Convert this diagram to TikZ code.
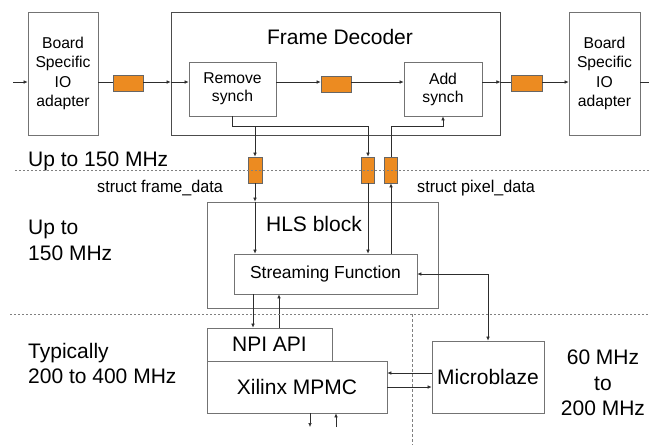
\documentclass[tikz,border=0pt]{standalone}
\usepackage{fontspec}
\setmainfont{Liberation Sans}
\newfontfamily\narrowfont[FakeStretch=0.95]{Liberation Sans}
\usetikzlibrary{arrows.meta,calc}
\definecolor{fifoorange}{RGB}{236,139,33}
\definecolor{boxgray}{RGB}{115,115,115}
\definecolor{wire}{RGB}{45,45,45}
\begin{document}
\begin{tikzpicture}[x=1pt,y=-1pt,
  box/.style={draw=boxgray, line width=0.8pt, inner sep=0pt, align=center, rectangle},
  fifo/.style={draw=black!60, fill=fifoorange, line width=0.8pt, inner sep=0pt, rectangle},
  tip/.tip={Latex[length=4pt,width=3.6pt]},
  arr/.style={draw=wire, line width=0.6pt, -tip},
  ln/.style={draw=wire, line width=0.6pt},
  sep/.style={draw=gray, line width=0.8pt, dash pattern=on 2pt off 2pt},
  sepv/.style={draw=gray, line width=0.7pt, dash pattern=on 3pt off 2pt},
  big/.style={font=\fontsize{21}{25.5}\selectfont},
  mid/.style={font=\fontsize{15.7}{19.5}\selectfont},
  lbl/.style={inner sep=0pt}
]
\useasboundingbox (0,0) rectangle (649,445);

% top row
\node[box, mid, minimum width=70pt, minimum height=123pt] (boardL) at (63,73.5) {Board\\Specific\\IO\\adapter};
\node[box, draw=black!70, minimum width=329pt, minimum height=123pt] (dec) at (335.5,73.5) {};
\node[lbl, big, anchor=base] (dectitle) at (340,44) {Frame Decoder};
\node[box, font=\fontsize{15.7}{18}\selectfont, minimum width=87pt, minimum height=54pt] (remove) at (232.5,89) {Remove\\synch};
\node[box, font=\fontsize{15.7}{18}\selectfont, minimum width=78pt, minimum height=54pt] (add) at (443,89) {Add\\synch};
\node[box, mid, minimum width=71pt, minimum height=123pt] (boardR) at (604.5,73.5) {Board\\Specific\\IO\\adapter};

\node[fifo, minimum width=30pt, minimum height=16pt] (fifo1) at (128,83) {};
\node[fifo, minimum width=30pt, minimum height=16pt] (fifo2) at (336,84) {};
\node[fifo, minimum width=31pt, minimum height=16pt] (fifo3) at (526.5,83) {};

\coordinate (in) at (13,82);
\coordinate (out) at (649,82);
\draw[arr] (in) -- (in -| boardL.west);
\draw[ln] (in -| boardL.east) -- (in -| fifo1.west);
\draw[arr] (in -| fifo1.east) -- (in -| dec.west);
\draw[arr] (in -| dec.west) -- (in -| remove.west);
\draw[arr] (in -| remove.east) -- (in -| fifo2.west);
\draw[arr] (in -| fifo2.east) -- (in -| add.west);
\draw[arr] (in -| add.east) -- (in -| dec.east);
\draw[ln] (in -| dec.east) -- (in -| fifo3.west);
\draw[arr] (in -| fifo3.east) -- (in -| boardR.west);
\draw[ln] (in -| boardR.east) -- (out);

% vertical fifos
\node[fifo, minimum width=14pt, minimum height=26pt] (fifoA) at (255,170) {};
\node[fifo, minimum width=13pt, minimum height=26pt] (fifoB) at (368,170) {};
\node[fifo, minimum width=13pt, minimum height=26pt] (fifoC) at (391,170) {};

\coordinate (bus) at (0,126);
\draw[arr] (remove.south) |- (fifoA |- bus) -- (fifoA.north);
\draw[arr] (remove.south) |- (fifoB |- bus) -- (fifoB.north);
\draw[arr] (fifoC.north) |- (add.south |- bus) -- (add.south);

% HLS block
\node[box, minimum width=231pt, minimum height=106pt] (hls) at (322.5,255) {};
\node[lbl, big, anchor=base] (hlstitle) at (314,231) {HLS block};
\node[box, font=\fontsize{17.4}{20}\selectfont, minimum width=183pt, minimum height=40pt] (stream) at (325.5,274) {Streaming Function};

\draw[arr] (fifoA.south) -- (fifoA |- hls.north);
\draw[arr] (fifoA |- hls.north) -- (fifoA |- stream.north);
\draw[arr] (fifoB.south) -- (fifoB |- stream.north);
\draw[arr] (fifoC |- stream.north) -- (fifoC.south);

% lower blocks
\node[box, big, minimum width=125pt, minimum height=33pt] (npi) at (269.5,344.5) {NPI API};
\node[box, big, minimum width=180pt, minimum height=52pt] (mpmc) at (297,387) {Xilinx MPMC};
\node[box, big, minimum width=112pt, minimum height=72pt] (micro) at (488,377) {Microblaze};

\draw[ln, tip-tip] (stream.east) -| (micro.north);

\coordinate (n1) at (253,0);
\coordinate (n2) at (279,0);
\draw[arr] (n1 |- stream.south) -- (n1 |- npi.north);
\draw[arr] (n2 |- npi.north) -- (n2 |- stream.south);

\coordinate (m1) at (0,373);
\coordinate (m2) at (0,387);
\draw[arr] (micro.west |- m1) -- (mpmc.east |- m1);
\draw[arr] (mpmc.east |- m2) -- (micro.west |- m2);

\coordinate (b1) at (310,427);
\coordinate (b2) at (336,427);
\draw[arr] (b1 |- mpmc.south) -- (b1);
\draw[arr] (b2) -- (b2 |- mpmc.south);

% separators
\draw[sep] (15,170) -- (649,170);
\draw[sep] (10,314) -- (649,314);
\draw[sepv] (412,314) -- (412,445);

% labels
\node[lbl, big, anchor=base west] (f1) at (28,166) {Up to 150 MHz};
\node[lbl, font=\narrowfont\fontsize{17}{19}\selectfont, anchor=base west] (sfd) at (97,192) {struct frame\_data};
\node[lbl, font=\narrowfont\fontsize{17}{19}\selectfont, anchor=base west] (spd) at (417,192) {struct pixel\_data};
\node[lbl, big, align=left, anchor=north west] (f2) at (28,220) {Up to\\150 MHz};
\node[lbl, big, align=left, anchor=north west] (f3) at (28,343) {Typically\\200 to 400 MHz};
\node[lbl, big, align=center, anchor=north] (f4) at (603,350) {60 MHz\\to\\200 MHz};
\end{tikzpicture}
\end{document}
